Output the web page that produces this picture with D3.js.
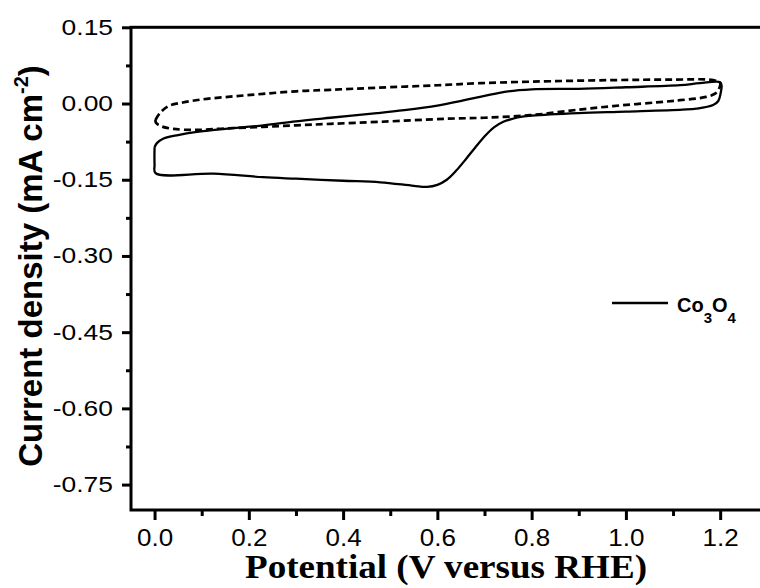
<!DOCTYPE html>
<html>
<head>
<meta charset="utf-8">
<script src="https://cdn.jsdelivr.net/npm/d3@7"></script>
<style>
  html, body { margin: 0; padding: 0; background: #fff; }
  svg { display: block; }
</style>
</head>
<body>
<svg id="chart" width="760" height="588"></svg>
<script>
// ---- data ----
const xTickValues = [0.0, 0.2, 0.4, 0.6, 0.8, 1.0, 1.2];
const xMinorTicks = [0.1, 0.3, 0.5, 0.7, 0.9, 1.1];
const yTickValues = [0.15, 0.00, -0.15, -0.30, -0.45, -0.60, -0.75];
const yMinorTicks = [0.075, -0.075, -0.225, -0.375, -0.525, -0.675];

// Co3O4 CV (solid loop): potential (V vs RHE), current density (mA cm-2)
const solidPotential = [0.0, 0.005, 0.019, 0.05, 0.09, 0.15, 0.231, 0.3, 0.373, 0.472, 0.53, 0.6, 0.655, 0.7, 0.75, 0.8, 0.9, 1.0, 1.115, 1.157, 1.2,
  1.203, 1.201, 1.196, 1.185, 1.15, 1.12, 1.0, 0.9, 0.8, 0.78, 0.76, 0.74, 0.72, 0.70, 0.68, 0.66, 0.64, 0.62, 0.6, 0.578, 0.55, 0.479, 0.4, 0.3, 0.23, 0.125, 0.002, 0.0, 0.0];
const solidCurrent = [-0.086, -0.078, -0.069, -0.062, -0.056, -0.050, -0.043, -0.035, -0.028, -0.019, -0.013, -0.004, 0.006, 0.015, 0.024, 0.028, 0.029, 0.032, 0.036, 0.040, 0.042,
  0.035, 0.020, 0.005, -0.003, -0.010, -0.012, -0.016, -0.019, -0.024, -0.026, -0.030, -0.036, -0.047, -0.065, -0.087, -0.110, -0.132, -0.150, -0.160, -0.164, -0.162, -0.155, -0.152, -0.148, -0.145, -0.138, -0.137, -0.120, -0.086];

// dashed loop
const dashedPotential = [0.002, 0.012, 0.03, 0.06, 0.1, 0.167, 0.23, 0.3, 0.373, 0.47, 0.6, 0.69, 0.8, 0.97, 1.1, 1.185, 1.2,
  1.198, 1.19, 1.17, 1.115, 1.087, 0.973, 0.9, 0.797, 0.7, 0.62, 0.479, 0.373, 0.3, 0.23, 0.15, 0.09, 0.04, 0.015, 0.003, 0.002];
const dashedCurrent = [-0.032, -0.018, -0.005, 0.002, 0.008, 0.014, 0.019, 0.024, 0.027, 0.031, 0.036, 0.040, 0.043, 0.046, 0.047, 0.046, 0.040,
  0.030, 0.020, 0.013, 0.0065, 0.004, -0.005, -0.012, -0.023, -0.028, -0.030, -0.036, -0.040, -0.043, -0.046, -0.049, -0.052, -0.050, -0.045, -0.038, -0.032];

const legendLabel = ["Co", "3", "O", "4"];

// ---- layout ----
const svg = d3.select("#chart");
const mLeft = 131, mRight = 767.3, mTop = 27.3, mBottom = 510;

const x = d3.scaleLinear().domain([-0.05, 1.3]).range([mLeft, mRight]);
const y = d3.scaleLinear().domain([-0.80, 0.15]).range([mBottom, mTop]);

// frame (right side falls outside view, as in reference)
svg.append("rect")
  .attr("x", mLeft).attr("y", mTop)
  .attr("width", mRight - mLeft).attr("height", mBottom - mTop)
  .attr("fill", "none").attr("stroke", "#000").attr("stroke-width", 3);

const fmtY = d => d3.format(".2f")(d).replace("\u2212", "-");
const fmtX = d => d3.format(".1f")(d).replace("\u2212", "-");

// axes
const xAxis = svg.append("g").attr("transform", `translate(0,${mBottom})`)
  .call(d3.axisBottom(x).tickValues(xTickValues).tickFormat(fmtX).tickSize(10).tickPadding(8));
const xMinorAxis = svg.append("g").attr("transform", `translate(0,${mBottom})`)
  .call(d3.axisBottom(x).tickValues(xMinorTicks).tickFormat("").tickSize(6));
const yAxis = svg.append("g").attr("transform", `translate(${mLeft},0)`)
  .call(d3.axisLeft(y).tickValues(yTickValues).tickFormat(fmtY).tickSize(9).tickPadding(8));
const yMinorAxis = svg.append("g").attr("transform", `translate(${mLeft},0)`)
  .call(d3.axisLeft(y).tickValues(yMinorTicks).tickFormat("").tickSize(5));

[xAxis, xMinorAxis, yAxis, yMinorAxis].forEach(g => {
  g.select(".domain").remove();
  g.selectAll(".tick line").attr("stroke", "#000").attr("stroke-width", 3);
});

xAxis.selectAll("text")
  .attr("font-family", "'Liberation Sans', Arial, sans-serif")
  .attr("font-size", 23).attr("fill", "#000")
  .attr("y", 20).attr("dy", "0.71em")
  .each(function() { const w = this.getComputedTextLength(); d3.select(this).attr("textLength", w * 1.13).attr("lengthAdjust", "spacingAndGlyphs"); });

yAxis.selectAll("text")
  .attr("font-family", "'Liberation Sans', Arial, sans-serif")
  .attr("font-size", 22).attr("fill", "#000")
  .attr("x", -18)
  .each(function() { const w = this.getComputedTextLength(); d3.select(this).attr("textLength", w * 1.2).attr("lengthAdjust", "spacingAndGlyphs"); });

// curves
const line = d3.line().x(d => x(d[0])).y(d => y(d[1])).curve(d3.curveCatmullRom.alpha(0.5));
const solidData = solidPotential.map((v, i) => [v, solidCurrent[i]]);
const dashedData = dashedPotential.map((v, i) => [v, dashedCurrent[i]]);

svg.append("path").datum(dashedData)
  .attr("d", line).attr("fill", "none").attr("stroke", "#000")
  .attr("stroke-width", 2.7).attr("stroke-dasharray", "7,4");

svg.append("path").datum(solidData)
  .attr("d", line).attr("fill", "none").attr("stroke", "#000")
  .attr("stroke-width", 2.3).attr("stroke-linejoin", "round");

// axis titles
svg.append("text")
  .attr("x", 446).attr("y", 578)
  .attr("text-anchor", "middle")
  .attr("font-family", "'Liberation Serif', 'Times New Roman', serif")
  .attr("font-weight", "bold").attr("font-size", 33).attr("fill", "#000")
  .attr("textLength", 402).attr("lengthAdjust", "spacingAndGlyphs")
  .text("Potential (V versus RHE)");

const yTitle = svg.append("text")
  .attr("transform", "translate(42,266) rotate(-90)")
  .attr("text-anchor", "middle")
  .attr("font-family", "'Liberation Sans', Arial, sans-serif")
  .attr("font-weight", "bold").attr("font-size", 33).attr("fill", "#000");
yTitle.append("tspan").text("Current density (mA cm");
yTitle.append("tspan").attr("font-size", 20).attr("dy", -14).text("-2");
yTitle.append("tspan").attr("dy", 14).text(")");

// legend
svg.append("line")
  .attr("x1", 612).attr("x2", 668).attr("y1", 303).attr("y2", 303)
  .attr("stroke", "#000").attr("stroke-width", 2.6);
const leg = svg.append("text")
  .attr("x", 677).attr("y", 311.5)
  .attr("font-family", "'Liberation Sans', Arial, sans-serif")
  .attr("font-weight", "bold").attr("font-size", 20).attr("fill", "#000");
leg.append("tspan").text(legendLabel[0]);
leg.append("tspan").attr("font-size", 15).attr("dy", 11).text(legendLabel[1]);
leg.append("tspan").attr("dy", -11).text(legendLabel[2]);
leg.append("tspan").attr("font-size", 15).attr("dy", 11).text(legendLabel[3]);
</script>
</body>
</html>
